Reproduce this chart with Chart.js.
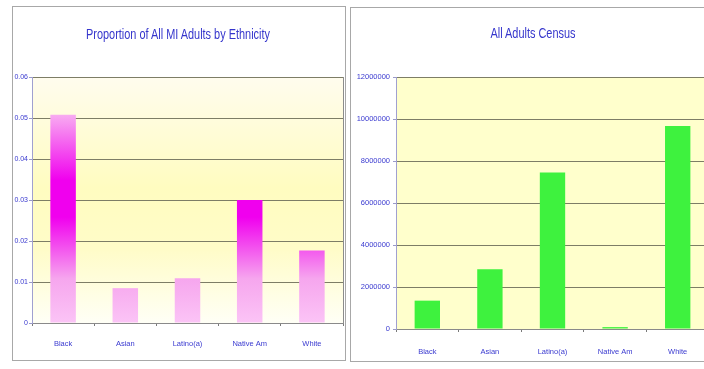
<!DOCTYPE html>
<html>
<head>
<meta charset="utf-8">
<script src="https://cdn.jsdelivr.net/npm/chart.js@4.4.1/dist/chart.umd.min.js"></script>
<style>
  html, body { margin: 0; padding: 0; background: #fff; }
  body { width: 704px; height: 369px; position: relative; overflow: hidden; }
  .frame { position: absolute; border: 1px solid #a8a8a8; box-sizing: border-box; }
  .box { position: absolute; top: 0; height: 369px; overflow: hidden; }
  canvas { position: absolute; left: 0; top: 0; }
  .title {
    position: absolute; white-space: nowrap; color: #3535cc;
    font: 14px 'Liberation Sans', Arial, sans-serif;
    transform: translate(-50%, -50%) scaleX(0.78);
  }
</style>
</head>
<body>
<div class="frame" style="left:12px; top:6px; width:334px; height:355px;"></div>
<div class="frame" style="left:350px; top:7px; width:380px; height:355px;"></div>
<div class="box" style="left:0; width:352px;"><canvas id="mi-chart" width="352" height="369"></canvas></div>
<div class="box" style="left:350px; width:354px;"><canvas id="census-chart" width="368" height="369"></canvas></div>
<div class="title" style="left:178px; top:34px;">Proportion of All MI Adults by Ethnicity</div>
<div class="title" style="left:533px; top:33px;">All Adults Census</div>
<script>
// Categories and values
const ethnicities = ['Black', 'Asian', 'Latino(a)', 'Native Am', 'White'];
const miProportion = [0.0508, 0.0085, 0.0109, 0.0300, 0.0177];
const censusAdults = [1350000, 2850000, 7450000, 90000, 9670000];
const miTicks = ['0', '0.01', '0.02', '0.03', '0.04', '0.05', '0.06'];
const censusTicks = ['0', '2000000', '4000000', '6000000', '8000000', '10000000', '12000000'];

const fontFamily = "'Liberation Sans', Arial, sans-serif";
const blue = '#3a3ad0';
const gridGrey = '#7d7d66';

// fill the plot area before the grid is drawn
const plotBg = {
    id: 'plotBg',
    beforeDraw(chart, args, opts) {
        const a = chart.chartArea;
        const ctx = chart.ctx;
        let fill = opts.color;
        if (opts.stops) {
            fill = ctx.createLinearGradient(0, a.top, 0, a.bottom);
            opts.stops.forEach(s => fill.addColorStop(s[0], s[1]));
        }
        ctx.save();
        ctx.fillStyle = fill;
        ctx.fillRect(a.left, a.top, a.right - a.left, a.bottom - a.top);
        ctx.restore();
    }
};

// pink -> magenta -> pink, fixed to the plot area
function pinkGradient(context) {
    const chart = context.chart;
    const a = chart.chartArea;
    if (!a) return '#f0a0f0';
    const g = chart.ctx.createLinearGradient(0, a.top, 0, a.bottom);
    g.addColorStop(0.0, '#fbc4f6');
    g.addColorStop(0.15, '#f8aef1');
    g.addColorStop(0.42, '#f000ee');
    g.addColorStop(0.57, '#f000ee');
    g.addColorStop(0.82, '#f6a6ee');
    g.addColorStop(1.0, '#fbc4f6');
    return g;
}

function baseOptions(yMax, yStep, yLabels, yWidth, pad, labelPad, yFontSize, yPad) {
    return {
        responsive: false,
        animation: false,
        layout: { padding: pad },
        plugins: {
            legend: { display: false },
            tooltip: { enabled: false }
        },
        scales: {
            x: {
                grid: { drawOnChartArea: false, drawTicks: true, tickLength: 3, color: '#7a7a7a' },
                border: { color: '#8a8a8a' },
                ticks: { color: blue, font: { family: fontFamily, size: 7.5 }, padding: labelPad },
                afterFit: s => { s.height = 30; }
            },
            y: {
                min: 0,
                max: yMax,
                ticks: {
                    stepSize: yStep,
                    color: blue,
                    font: { family: fontFamily, size: yFontSize },
                    padding: yPad,
                    callback: (v, i) => yLabels[i]
                },
                grid: { color: gridGrey, tickLength: 3, tickColor: '#9a9ac8' },
                border: { color: '#a0a0d0' },
                afterFit: s => { s.width = yWidth; }
            }
        }
    };
}

const miOptions = baseOptions(0.06, 0.01, miTicks, 28,
    { left: 4, right: 9, top: 77, bottom: 16 }, 13, 7, 1);
miOptions.plugins.plotBg = { stops: [[0, '#fffcee'], [0.45, '#fffcc0'], [0.7, '#fffcc8'], [1, '#fffff6']] };
// right-hand frame of the plot area
miOptions.scales.frame = {
    position: 'right',
    min: 0,
    max: 0.06,
    ticks: { display: false },
    grid: { display: false },
    border: { color: '#8c8c8c' },
    afterFit: s => { s.width = 0; }
};

new Chart(document.getElementById('mi-chart'), {
    type: 'bar',
    data: {
        labels: ethnicities,
        datasets: [{
            data: miProportion,
            backgroundColor: pinkGradient,
            borderWidth: 0,
            categoryPercentage: 1,
            barPercentage: 0.41
        }]
    },
    options: miOptions,
    plugins: [plotBg]
});

const censusOptions = baseOptions(12000000, 2000000, censusTicks, 42,
    { left: 4, right: 9, top: 77, bottom: 10 }, 15, 7.5, 3);
censusOptions.plugins.plotBg = { color: '#ffffcc' };

new Chart(document.getElementById('census-chart'), {
    type: 'bar',
    data: {
        labels: ethnicities,
        datasets: [{
            data: censusAdults,
            backgroundColor: '#3ef23e',
            borderWidth: 0,
            categoryPercentage: 1,
            barPercentage: 0.405
        }]
    },
    options: censusOptions,
    plugins: [plotBg]
});
</script>
</body>
</html>
